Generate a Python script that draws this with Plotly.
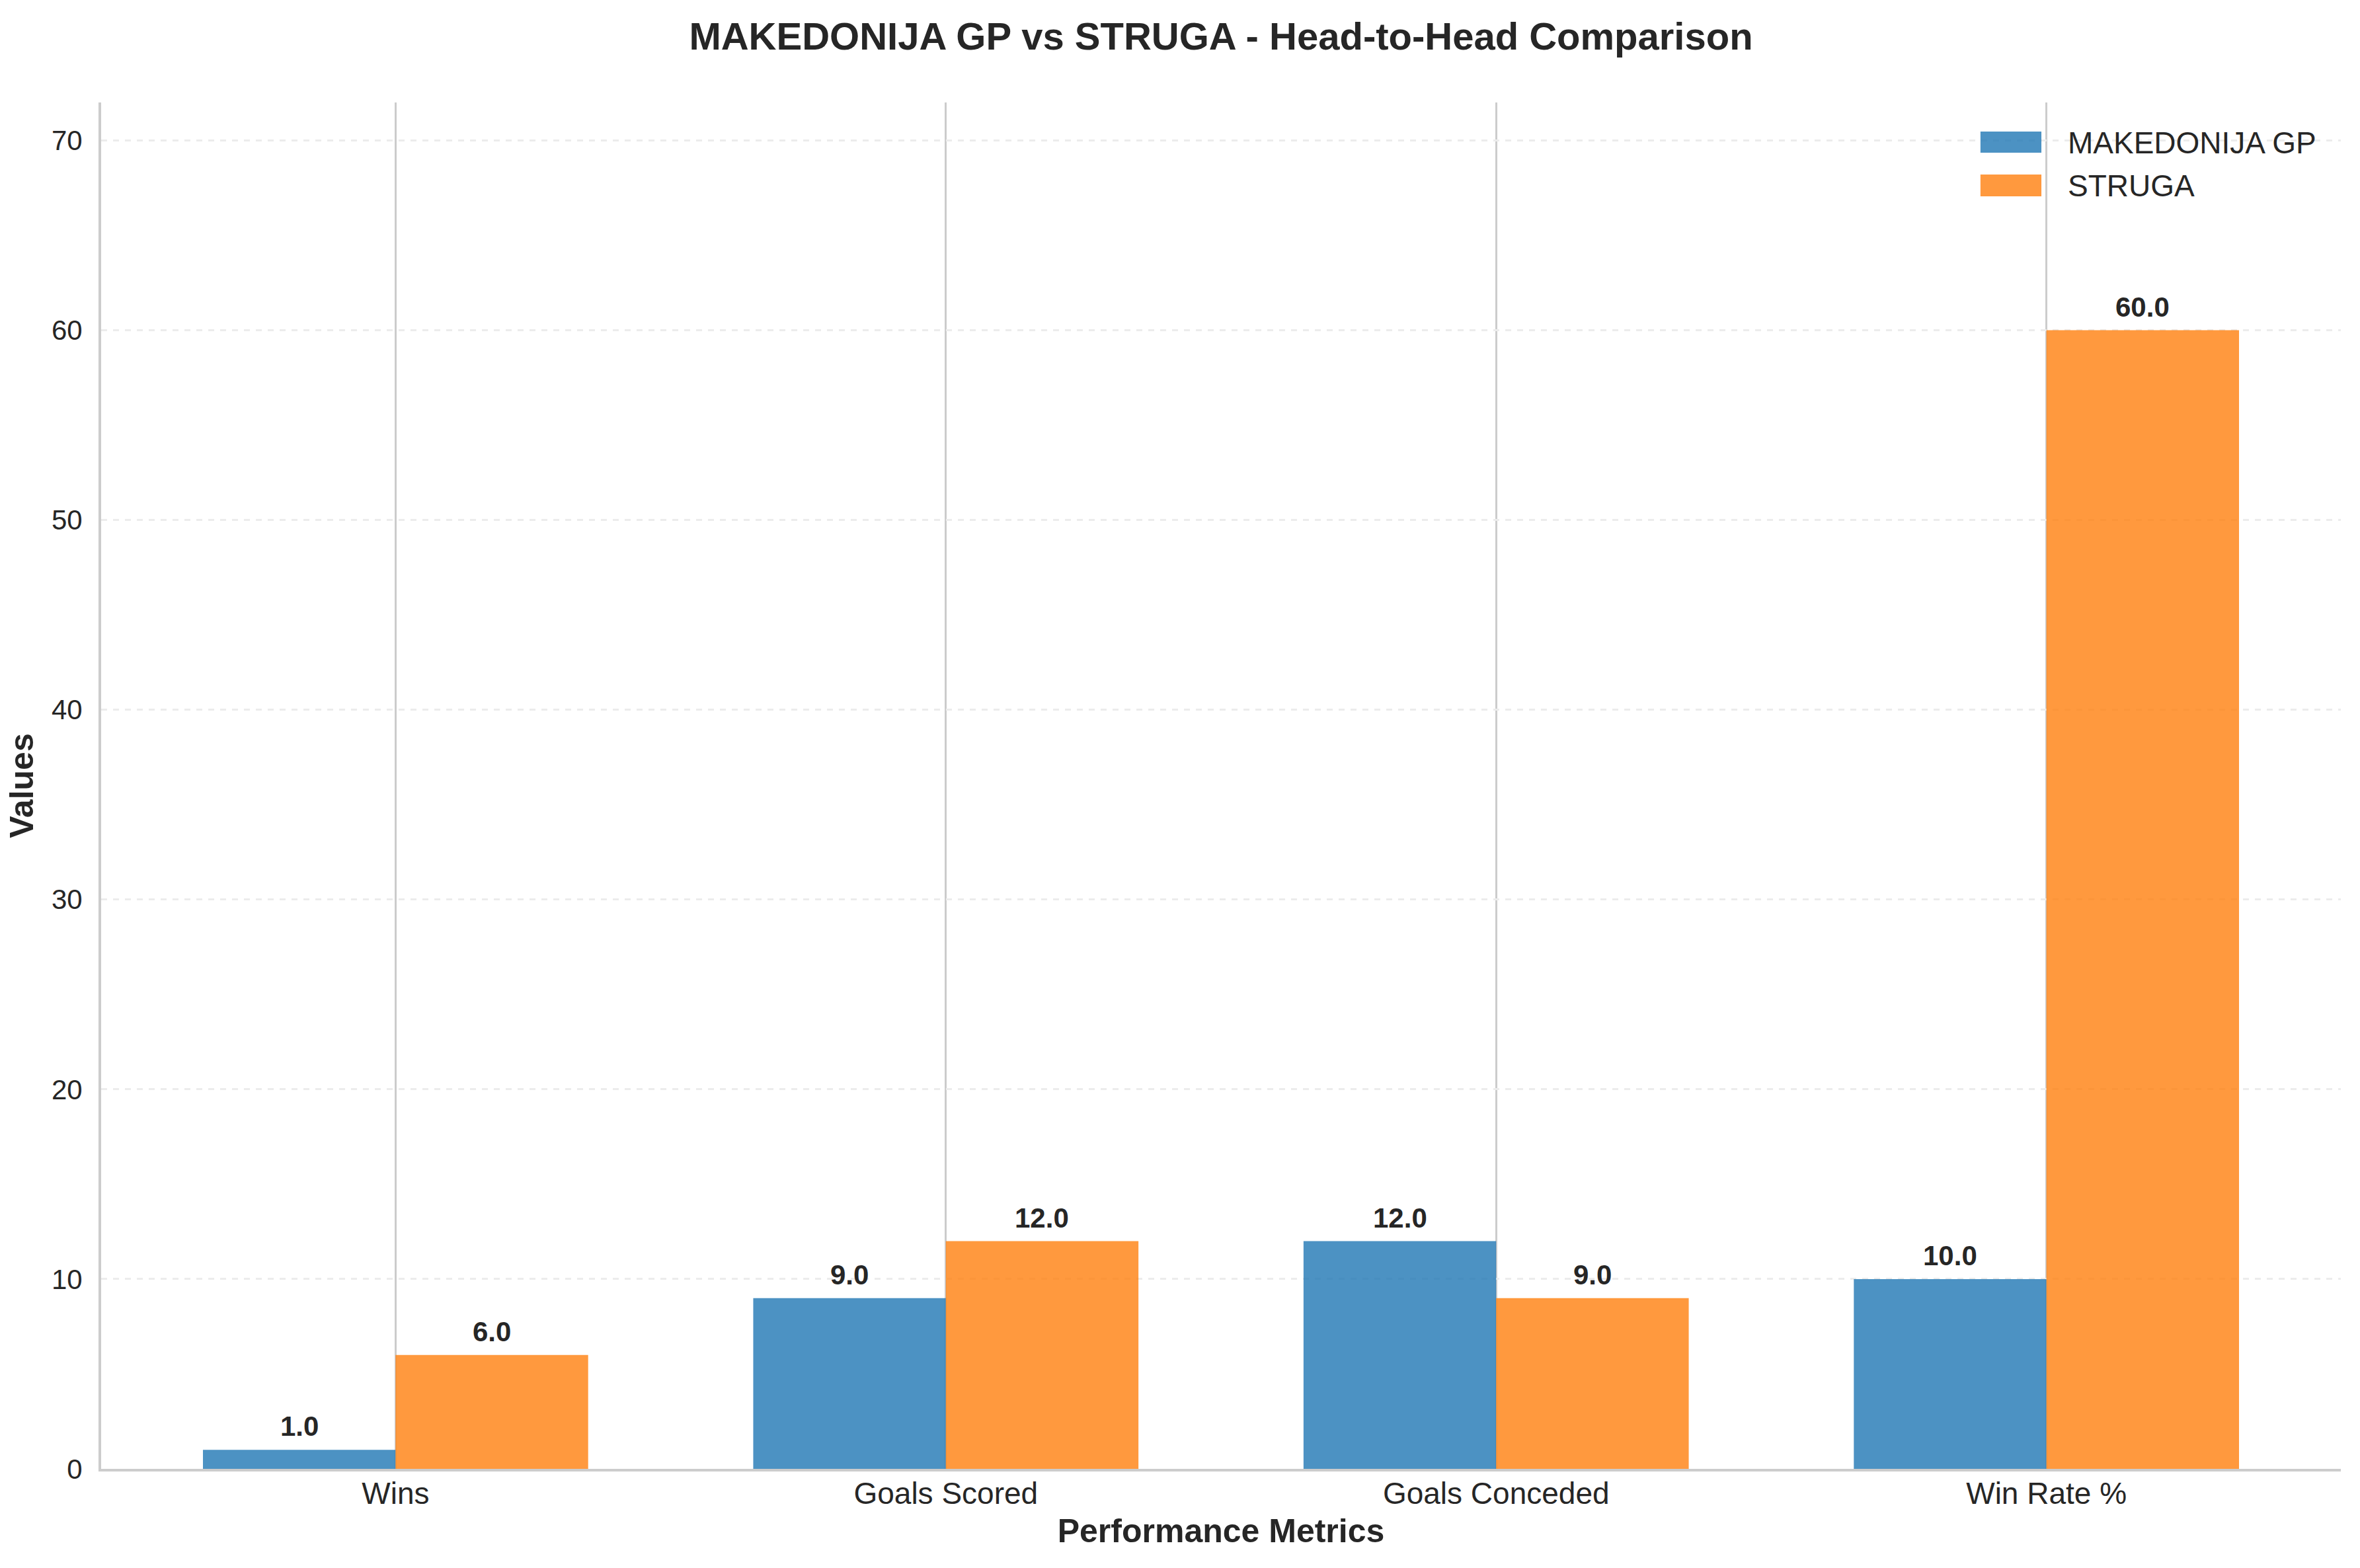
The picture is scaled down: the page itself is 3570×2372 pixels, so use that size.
import numpy as np
import plotly.graph_objects as go

categories = ["Wins", "Goals Scored", "Goals Conceded", "Win Rate %"]
team_a_name = "MAKEDONIJA GP"
team_b_name = "STRUGA"
team_a_values = [1.0, 9.0, 12.0, 10.0]
team_b_values = [6.0, 12.0, 9.0, 60.0]
y_ticks = [0, 10, 20, 30, 40, 50, 60, 70]

FONT = "Arial, 'Liberation Sans', Helvetica, sans-serif"
BLUE = "rgba(31,119,180,0.8)"
ORANGE = "rgba(255,127,14,0.8)"
W = 0.35

pos = np.arange(len(categories))
xa = pos - W / 2
xb = pos + W / 2

fig = go.Figure()
fig.add_trace(go.Bar(x=xa, y=team_a_values, width=W, name=team_a_name,
                     marker=dict(color=BLUE, line=dict(width=0)), showlegend=False))
fig.add_trace(go.Bar(x=xb, y=team_b_values, width=W, name=team_b_name,
                     marker=dict(color=ORANGE, line=dict(width=0)), showlegend=False))

for xs, vals in ((xa, team_a_values), (xb, team_b_values)):
    for x, v in zip(xs, vals):
        fig.add_annotation(x=x, y=v, text=f"{v:.1f}", showarrow=False,
                           yanchor="bottom", yshift=10,
                           font=dict(family=FONT, size=42, color="#262626", weight="bold"))

# legend (drawn with swatches to match the large rectangular handles)
legend_items = [(team_a_name, BLUE, 0.9787, 0.9632, 0.9705),
                (team_b_name, ORANGE, 0.9473, 0.9313, 0.9390)]
for name, col, y1, y0, yt in legend_items:
    fig.add_shape(type="rect", xref="paper", yref="paper",
                  x0=0.8391, x1=0.8663, y0=y0, y1=y1,
                  fillcolor=col, line=dict(width=0), layer="above")
    fig.add_annotation(xref="paper", yref="paper", x=0.8775, y=yt, text=name,
                       showarrow=False, xanchor="left", yanchor="middle",
                       font=dict(family=FONT, size=46, color="#262626"))

ymax = max(max(team_a_values), max(team_b_values)) * 1.2

fig.update_layout(
    width=3570, height=2372,
    margin=dict(l=153, r=29, t=155, b=150),
    paper_bgcolor="white", plot_bgcolor="white",
    font=dict(family=FONT, color="#262626"),
    title=dict(text="MAKEDONIJA GP vs STRUGA - Head-to-Head Comparison",
               x=0.5, xref="paper", xanchor="center",
               y=1 - 55 / 2372, yref="container", yanchor="middle",
               font=dict(family=FONT, size=58, color="#262626", weight="bold")),
    barmode="overlay",
    showlegend=False,
    xaxis=dict(
        range=[-0.535, 3.535],
        tickmode="array", tickvals=list(pos), ticktext=categories,
        tickfont=dict(family=FONT, size=46, color="#262626"),
        showgrid=True, gridcolor="#cccccc", gridwidth=3,
        showline=True, linecolor="#cccccc", linewidth=4,
        zeroline=False, ticks="", ticklabelstandoff=-6,
        title=dict(text="Performance Metrics", standoff=15,
                   font=dict(family=FONT, size=50, color="#262626", weight="bold")),
    ),
    yaxis=dict(
        range=[0, ymax],
        tickmode="array", tickvals=y_ticks,
        tickfont=dict(family=FONT, size=42, color="#262626"),
        showgrid=True, gridcolor="#ececec", gridwidth=3, griddash="dash",
        showline=True, linecolor="#cccccc", linewidth=4,
        zeroline=False, ticks="", ticklabelstandoff=16,
        title=dict(text="Values", standoff=12,
                   font=dict(family=FONT, size=50, color="#262626", weight="bold")),
    ),
)

fig.write_html("out.html")
